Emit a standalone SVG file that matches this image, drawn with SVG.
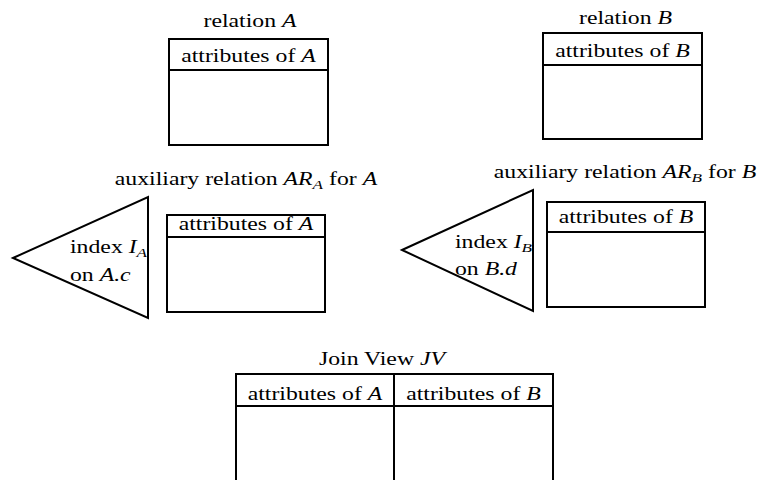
<svg xmlns="http://www.w3.org/2000/svg" width="762" height="480" viewBox="0 0 762 480" font-family="Liberation Serif, Times New Roman, serif">
<style>
.box{fill:#fff;stroke:#000;stroke-width:2}
.ln{stroke:#000;stroke-width:2;fill:none}
text{font-family:'Liberation Serif','Times New Roman',serif;font-size:18px;fill:#000}
.m{text-anchor:middle}
.i{font-style:italic}
.s{font-style:italic;font-size:13px}
</style>
<rect width="762" height="480" fill="#fff"/>
<g id="relationA">
<text class="m" transform="translate(250,27) scale(1.32,1)">relation <tspan class="i">A</tspan></text>
<rect class="box" x="169" y="39" width="159" height="106"/>
<line class="ln" x1="169" y1="70" x2="328" y2="70"/>
<text class="m" transform="translate(248.5,62) scale(1.32,1)">attributes of <tspan class="i">A</tspan></text>
</g>
<g id="relationB">
<text class="m" transform="translate(625.5,24) scale(1.32,1)">relation <tspan class="i">B</tspan></text>
<rect class="box" x="543" y="33" width="159" height="106"/>
<line class="ln" x1="543" y1="65" x2="702" y2="65"/>
<text class="m" transform="translate(622.5,57) scale(1.32,1)">attributes of <tspan class="i">B</tspan></text>
</g>
<g id="indexA">
<polygon class="box" points="13,258 148,197 148,318"/>
<text transform="translate(70,253) scale(1.32,1)">index <tspan class="i">I</tspan><tspan class="s" dy="4">A</tspan></text>
<text transform="translate(70,281) scale(1.32,1)">on <tspan class="i">A.c</tspan></text>
</g>
<g id="auxA">
<text class="m" transform="translate(246,185) scale(1.32,1)">auxiliary relation <tspan class="i">AR</tspan><tspan class="s" dy="4">A</tspan><tspan dy="-4"> for </tspan><tspan class="i">A</tspan></text>
<rect class="box" x="167" y="215" width="158" height="97"/>
<line class="ln" x1="167" y1="237" x2="325" y2="237"/>
<text class="m" transform="translate(246,230) scale(1.32,1)">attributes of <tspan class="i">A</tspan></text>
</g>
<g id="indexB">
<polygon class="box" points="402,250 533,190 533,311"/>
<text transform="translate(455,248) scale(1.32,1)">index <tspan class="i">I</tspan><tspan class="s" dy="4">B</tspan></text>
<text transform="translate(455,275) scale(1.32,1)">on <tspan class="i">B.d</tspan></text>
</g>
<g id="auxB">
<text class="m" transform="translate(625,178) scale(1.32,1)">auxiliary relation <tspan class="i">AR</tspan><tspan class="s" dy="4">B</tspan><tspan dy="-4"> for </tspan><tspan class="i">B</tspan></text>
<rect class="box" x="547" y="202" width="158" height="105"/>
<line class="ln" x1="547" y1="232" x2="705" y2="232"/>
<text class="m" transform="translate(626,223) scale(1.32,1)">attributes of <tspan class="i">B</tspan></text>
</g>
<g id="joinView">
<text class="m" transform="translate(382,365) scale(1.32,1)">Join View <tspan class="i">JV</tspan></text>
<rect class="box" x="236" y="374" width="317" height="120"/>
<line class="ln" x1="236" y1="406" x2="553" y2="406"/>
<line class="ln" x1="394" y1="374" x2="394" y2="480"/>
<text class="m" transform="translate(315,400) scale(1.32,1)">attributes of <tspan class="i">A</tspan></text>
<text class="m" transform="translate(473.5,400) scale(1.32,1)">attributes of <tspan class="i">B</tspan></text>
</g>
</svg>
